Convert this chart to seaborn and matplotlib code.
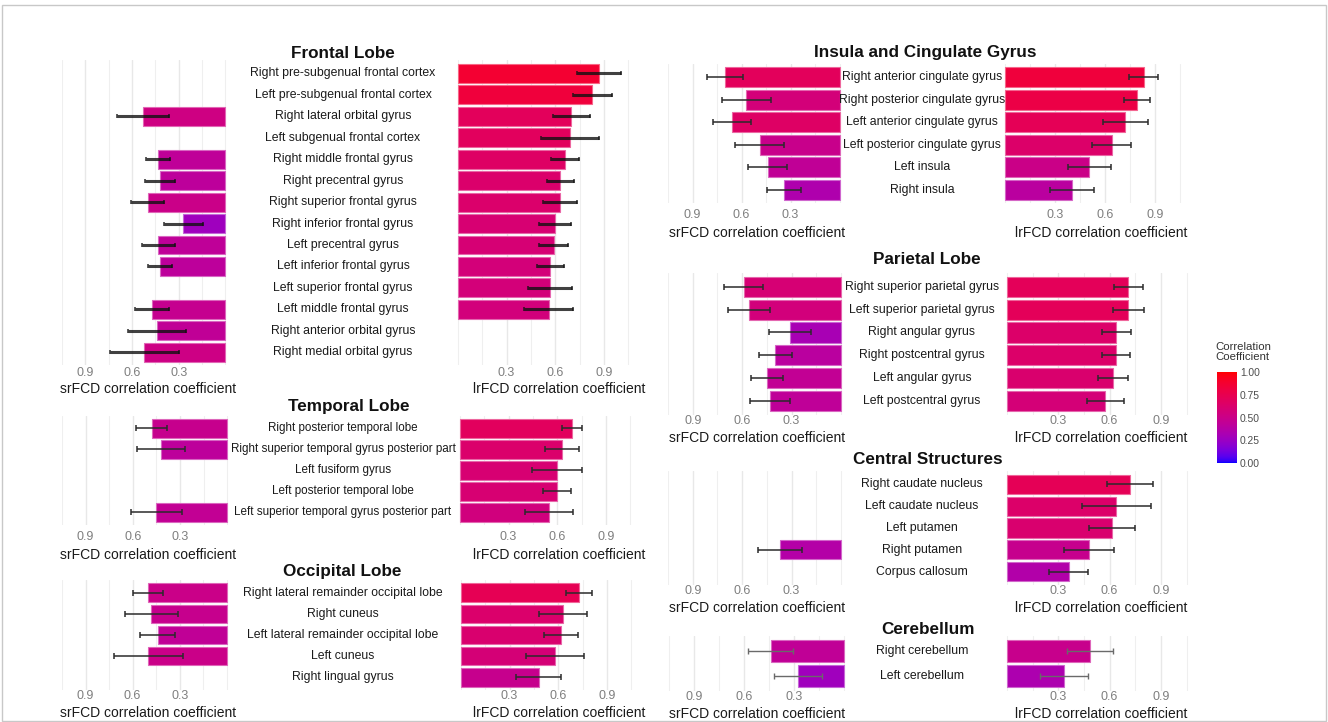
import numpy as np
import pandas as pd
import matplotlib
matplotlib.use("Agg")
import matplotlib.pyplot as plt
import seaborn as sns
from matplotlib.colors import ListedColormap, Normalize
from matplotlib.transforms import blended_transform_factory
from matplotlib.patches import Rectangle

nan = np.nan

# ---------------- data: correlation coefficients and error half-widths ----------------
frontal_regions = [
    "Right pre-subgenual frontal cortex", "Left pre-subgenual frontal cortex",
    "Right lateral orbital gyrus", "Left subgenual frontal cortex",
    "Right middle frontal gyrus", "Right precentral gyrus",
    "Right superior frontal gyrus", "Right inferior frontal gyrus",
    "Left precentral gyrus", "Left inferior frontal gyrus",
    "Left superior frontal gyrus", "Left middle frontal gyrus",
    "Right anterior orbital gyrus", "Right medial orbital gyrus",
]
frontal_sr = [nan, nan, 0.53, nan, 0.43, 0.42, 0.50, 0.27, 0.43, 0.42, nan, 0.47, 0.44, 0.52]
frontal_sr_err = [nan, nan, 0.165, nan, 0.077, 0.098, 0.107, 0.125, 0.104, 0.080, nan, 0.110, 0.185, 0.222]
frontal_lr = [0.87, 0.83, 0.70, 0.69, 0.66, 0.63, 0.63, 0.60, 0.59, 0.57, 0.57, 0.56, nan, nan]
frontal_lr_err = [0.137, 0.122, 0.116, 0.180, 0.086, 0.083, 0.105, 0.098, 0.092, 0.083, 0.136, 0.150, nan, nan]

temporal_regions = [
    "Right posterior temporal lobe", "Right superior temporal gyrus posterior part",
    "Left fusiform gyrus", "Left posterior temporal lobe",
    "Left superior temporal gyrus posterior part",
]
temporal_sr = [0.48, 0.42, nan, nan, 0.45]
temporal_sr_err = [0.097, 0.150, nan, nan, 0.160]
temporal_lr = [0.69, 0.63, 0.60, 0.60, 0.55]
temporal_lr_err = [0.060, 0.105, 0.155, 0.085, 0.150]

occipital_regions = [
    "Right lateral remainder occipital lobe", "Right cuneus",
    "Left lateral remainder occipital lobe", "Left cuneus", "Right lingual gyrus",
]
occipital_sr = [0.50, 0.48, 0.44, 0.50, nan]
occipital_sr_err = [0.095, 0.170, 0.110, 0.220, nan]
occipital_lr = [0.73, 0.63, 0.615, 0.58, 0.48]
occipital_lr_err = [0.080, 0.150, 0.105, 0.180, 0.140]

insula_regions = [
    "Right anterior cingulate gyrus", "Right posterior cingulate gyrus",
    "Left anterior cingulate gyrus", "Left posterior cingulate gyrus",
    "Left insula", "Right insula",
]
insula_sr = [0.70, 0.57, 0.66, 0.49, 0.44, 0.34]
insula_sr_err = [0.110, 0.148, 0.116, 0.150, 0.120, 0.105]
insula_lr = [0.83, 0.79, 0.72, 0.64, 0.505, 0.40]
insula_lr_err = [0.086, 0.080, 0.134, 0.117, 0.130, 0.133]

parietal_regions = [
    "Right superior parietal gyrus", "Left superior parietal gyrus",
    "Right angular gyrus", "Right postcentral gyrus",
    "Left angular gyrus", "Left postcentral gyrus",
]
parietal_sr = [0.59, 0.56, 0.31, 0.40, 0.45, 0.43]
parietal_sr_err = [0.118, 0.127, 0.127, 0.100, 0.098, 0.120]
parietal_lr = [0.71, 0.71, 0.64, 0.64, 0.62, 0.575]
parietal_lr_err = [0.087, 0.089, 0.084, 0.082, 0.086, 0.110]

central_regions = [
    "Right caudate nucleus", "Left caudate nucleus", "Left putamen",
    "Right putamen", "Corpus callosum",
]
central_sr = [nan, nan, nan, 0.37, nan]
central_sr_err = [nan, nan, nan, 0.133, nan]
central_lr = [0.72, 0.64, 0.615, 0.48, 0.36]
central_lr_err = [0.136, 0.200, 0.134, 0.144, 0.116]

cerebellum_regions = ["Right cerebellum", "Left cerebellum"]
cerebellum_sr = [0.44, 0.275]
cerebellum_sr_err = [0.135, 0.147]
cerebellum_lr = [0.485, 0.333]
cerebellum_lr_err = [0.135, 0.142]

tick_values = [0.3, 0.6, 0.9]
tick_labels = ["0.3", "0.6", "0.9"]
sr_title = "srFCD correlation coefficient"
lr_title = "lrFCD correlation coefficient"

# ---------------- figure setup ----------------
W, H, DPI = 1328, 722, 100
sns.set_theme(style="white")
plt.rcParams["font.family"] = ["Liberation Sans", "DejaVu Sans"]

# blue -> red gradient interpolated in CIELAB
_M = np.array([[0.4124564, 0.3575761, 0.1804375],
               [0.2126729, 0.7151522, 0.0721750],
               [0.0193339, 0.1191920, 0.9503041]])
_WHITE = np.array([0.95047, 1.0, 1.08883])


def to_lab(rgb):
    rgb = np.asarray(rgb, float)
    lin = np.where(rgb <= 0.04045, rgb / 12.92, ((rgb + 0.055) / 1.055) ** 2.4)
    t = (lin @ _M.T) / _WHITE
    d = 6 / 29
    f = np.where(t > d ** 3, np.cbrt(t), t / (3 * d * d) + 4 / 29)
    return np.stack([116 * f[..., 1] - 16, 500 * (f[..., 0] - f[..., 1]),
                     200 * (f[..., 1] - f[..., 2])], -1)


def from_lab(lab):
    d = 6 / 29
    fy = (lab[..., 0] + 16) / 116
    fx = fy + lab[..., 1] / 500
    fz = fy - lab[..., 2] / 200
    inv = lambda f: np.where(f > d, f ** 3, 3 * d * d * (f - 4 / 29))
    xyz = np.stack([inv(fx), inv(fy), inv(fz)], -1) * _WHITE
    lin = np.clip(xyz @ np.linalg.inv(_M).T, 0, 1)
    rgb = np.where(lin <= 0.0031308, 12.92 * lin, 1.055 * lin ** (1 / 2.4) - 0.055)
    return np.clip(rgb, 0, 1)


_t = np.linspace(0, 1, 256)[:, None]
cmap = ListedColormap(from_lab(to_lab([0, 0, 1.0]) * (1 - _t) + to_lab([1.0, 0, 0]) * _t))
norm = Normalize(0, 1)

fig = plt.figure(figsize=(W / DPI, H / DPI), dpi=DPI)
fig.patch.set_facecolor("white")


def px_axes(x0, x1, y0, y1):
    return fig.add_axes([x0 / W, 1 - y1 / H, (x1 - x0) / W, (y1 - y0) / H])


def draw_panel(regions, values, errors, side, px_x, zero, scale, rows,
               tick_y, axis_x, axis_y, title, err_style):
    y0, pitch = rows
    n = len(regions)
    top = y0 - 0.6 * pitch
    bottom = y0 + (n - 1) * pitch + 0.6 * pitch
    x0, x1 = px_x
    ax = px_axes(x0, x1, top, bottom)
    ax.set_facecolor("none")

    df = pd.DataFrame({"region": regions, "value": values}).dropna()
    pal = {r: cmap(norm(v if np.isfinite(v) else 0.0)) for r, v in zip(regions, values)}
    sns.barplot(data=df, x="value", y="region", hue="region", order=regions,
                hue_order=regions, palette=pal, orient="h", width=0.88,
                saturation=1, legend=False, errorbar=None, ax=ax)
    for p in ax.patches:
        fc = np.array(p.get_facecolor()[:3])
        p.set_edgecolor(tuple(fc * 0.6 + 0.4))
        p.set_linewidth(0.8)

    vals = np.asarray(values, float)
    errs = np.asarray(errors, float)
    pos = np.arange(n)
    ok = np.isfinite(vals)
    ax.errorbar(vals[ok], pos[ok], xerr=errs[ok], fmt="none", zorder=5, **err_style)

    if side == "left":
        ax.set_xlim((zero - x0) / scale, (zero - x1) / scale)
    else:
        ax.set_xlim((x0 - zero) / scale, (x1 - zero) / scale)
    ax.set_ylim(n - 1 + 0.6, -0.6)

    ax.set_xticks(tick_values)
    ax.set_xticklabels(tick_labels)
    ax.set_xticks([0.0, 0.15, 0.45, 0.75, 1.05], minor=True)
    ax.grid(True, axis="x", which="major", color="#E8E8E8", lw=1.0)
    ax.grid(True, axis="x", which="minor", color="#EFEFEF", lw=0.8)
    ax.grid(False, axis="y")
    ax.set_axisbelow(True)
    pad = max((tick_y - bottom - 6.5) * 0.72, 0)
    ax.tick_params(axis="x", which="both", length=0, labelsize=9,
                   labelcolor="#7f7f7f", pad=pad)
    ax.set_yticks([])
    ax.set_ylabel("")
    for s in ax.spines.values():
        s.set_visible(False)

    ax.set_xlabel(title, fontsize=10, color="#1a1a1a")
    ax.xaxis.set_label_coords((axis_x - x0) / (x1 - x0), (bottom - axis_y) / (bottom - top))
    ax.xaxis.label.set_va("center")
    return ax


def draw_group(name, regions, sr, sr_err, lr, lr_err, g):
    err_style = g["err"]
    draw_panel(regions, sr, sr_err, "left", g["left_px"], g["left_zero"], g["left_scale"],
               g["rows"], g["tick_y"], g["sr_x"], g["axis_y"], sr_title, err_style)
    ax = draw_panel(regions, lr, lr_err, "right", g["right_px"], g["right_zero"], g["right_scale"],
                    g["rows"], g["tick_y"], g["lr_x"], g["axis_y"], lr_title, err_style)
    tr = blended_transform_factory(fig.transFigure, ax.transData)
    for i, r in enumerate(regions):
        ax.text(g["label_x"] / W, i, r, transform=tr, ha="center", va="center",
                fontsize=g["label_size"], color="#1a1a1a")
    tx, ty = g["title"]
    fig.text(tx / W, 1 - ty / H, name, ha="center", va="center",
             fontsize=12.3, fontweight="bold", color="#111111")


thick = dict(ecolor="#111111", elinewidth=2.2, capsize=1.5, capthick=1.2, alpha=0.8)
thin = dict(ecolor="#2b2b2b", elinewidth=1.1, capsize=2.5, capthick=1.1)
light = dict(ecolor="#6a6a6a", elinewidth=1.0, capsize=2.5, capthick=1.0)

left_col = dict(left_px=(62, 232), right_px=(451, 645), sr_x=148.5, lr_x=559, label_x=343,
                left_scale=162, right_scale=162)
right_col = dict(left_px=(668, 848), right_px=(998, 1195), sr_x=757, lr_x=1101, label_x=922)

groups = [
    ("Frontal Lobe", frontal_regions, frontal_sr, frontal_sr_err, frontal_lr, frontal_lr_err,
     dict(left_col, title=(343, 53), rows=(73.3, 21.46), tick_y=373, axis_y=389,
          left_zero=225, right_zero=458, label_size=8.8, err=thick)),
    ("Temporal Lobe", temporal_regions, temporal_sr, temporal_sr_err, temporal_lr, temporal_lr_err,
     dict(left_col, title=(349, 406.7), rows=(428.3, 21.0), tick_y=537, axis_y=555,
          left_zero=227, right_zero=460, label_size=8.4, err=thin)),
    ("Occipital Lobe", occipital_regions, occipital_sr, occipital_sr_err, occipital_lr, occipital_lr_err,
     dict(left_col, title=(342, 571.7), rows=(592.7, 21.15), tick_y=696, axis_y=713,
          left_zero=226.5, right_zero=461, label_size=8.8, err=thin)),
    ("Insula and Cingulate Gyrus", insula_regions, insula_sr, insula_sr_err, insula_lr, insula_lr_err,
     dict(right_col, title=(925, 52.7), rows=(77.3, 22.5), tick_y=215.5, axis_y=232.7,
          left_zero=839.3, left_scale=169, right_zero=1005, right_scale=167,
          label_size=8.8, err=thin)),
    ("Parietal Lobe", parietal_regions, parietal_sr, parietal_sr_err, parietal_lr, parietal_lr_err,
     dict(right_col, title=(927, 260), rows=(286.7, 22.9), tick_y=421.5, axis_y=437.7,
          left_zero=841, left_scale=166, right_zero=1007, right_scale=171,
          label_size=8.8, err=thin)),
    ("Central Structures", central_regions, central_sr, central_sr_err, central_lr, central_lr_err,
     dict(right_col, title=(927.5, 460), rows=(484.3, 21.85), tick_y=591, axis_y=608.3,
          left_zero=841, left_scale=166, right_zero=1007, right_scale=171,
          label_size=8.8, err=thin)),
    ("Cerebellum", cerebellum_regions, cerebellum_sr, cerebellum_sr_err, cerebellum_lr, cerebellum_lr_err,
     dict(right_col, title=(927.5, 630), rows=(651, 24.7), tick_y=696.7, axis_y=714,
          left_zero=843.6, left_scale=166, right_zero=1007, right_scale=171,
          label_size=8.8, err=light)),
]

for name, regions, sr, sr_err, lr, lr_err, g in groups:
    draw_group(name, regions, sr, sr_err, lr, lr_err, g)

# colour scale legend
cax = px_axes(1217, 1237, 372, 463)
sm = matplotlib.cm.ScalarMappable(norm=norm, cmap=cmap)
cb = fig.colorbar(sm, cax=cax, ticks=[0, 0.25, 0.5, 0.75, 1.0])
cb.outline.set_visible(False)
cb.ax.set_yticklabels(["0.00", "0.25", "0.50", "0.75", "1.00"])
cb.ax.tick_params(direction="in", length=3.5, width=0.8, color="white",
                  labelsize=7.4, labelcolor="#4d4d4d", pad=2, left=True, right=True)
fig.text(1215 / W, 1 - 352 / H, "Correlation\nCoefficient", ha="left", va="center",
         fontsize=8.2, color="#333333", linespacing=0.95)

# outer frame
fig.add_artist(Rectangle((2 / W, 1 / H), (W - 4) / W, (H - 6) / H, transform=fig.transFigure,
                         fill=False, ec="#c8c8c8", lw=1.0))

fig.savefig("out.png", dpi=DPI, facecolor="white")
